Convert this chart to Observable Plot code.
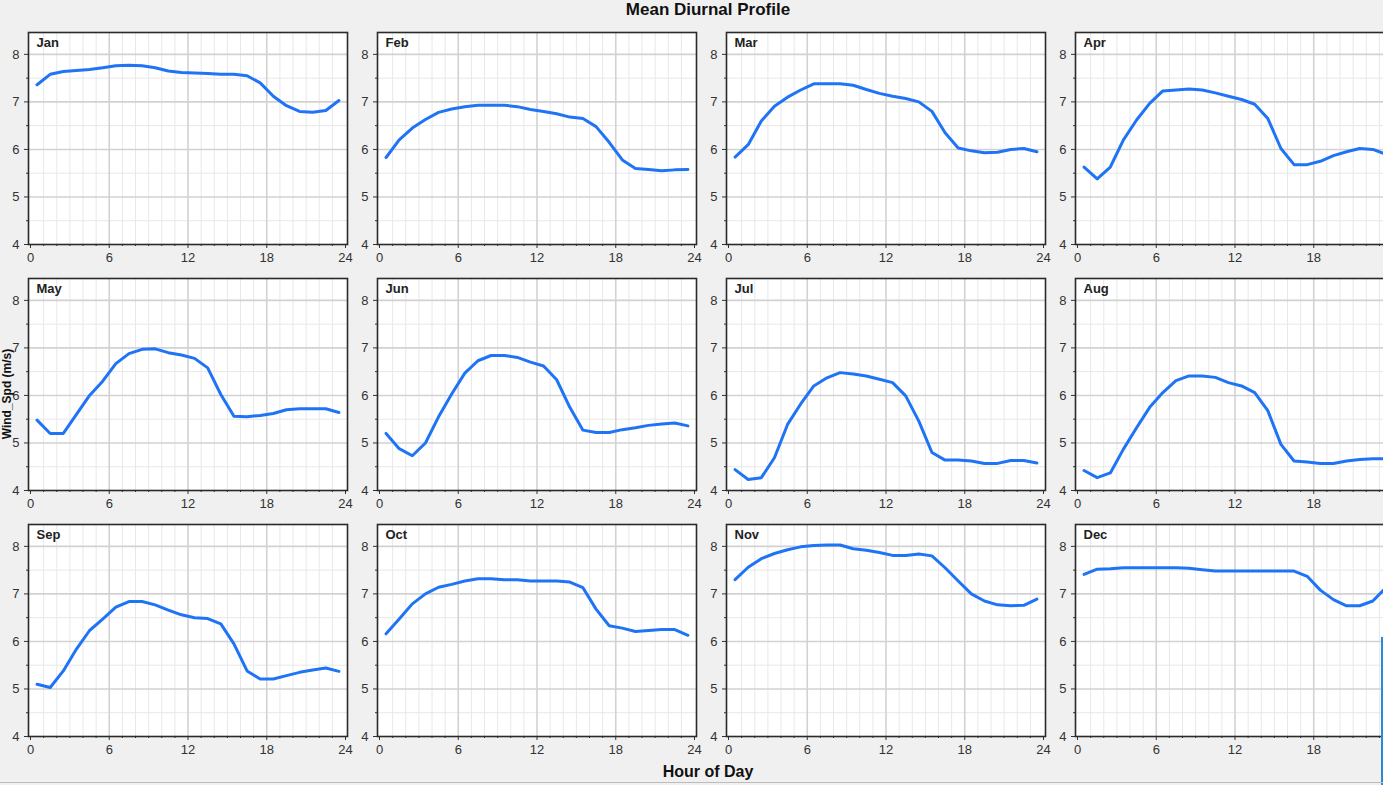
<!DOCTYPE html>
<html>
<head>
<meta charset="utf-8">
<script src="https://cdn.jsdelivr.net/npm/d3@7"></script>
<script src="https://cdn.jsdelivr.net/npm/@observablehq/plot@0.6"></script>
<style>
  html, body { margin: 0; padding: 0; background: #f0f0f0; overflow: hidden; }
  #root { position: relative; width: 1383px; height: 785px; overflow: hidden; background: #f0f0f0;
          font-family: "Liberation Sans", Arial, sans-serif; }
  .panel { position: absolute; }
  #title { position: absolute; left: 0; width: 1416px; top: 1px; text-align: center; font-weight: bold;
           font-size: 17px; line-height: 17px; color: #111; }
  #xlabel { position: absolute; left: 0; width: 1416px; top: 764px; text-align: center; font-weight: bold;
            font-size: 16px; line-height: 16px; color: #111; }
</style>
</head>
<body>
<div id="root">
  <div id="title">Mean Diurnal Profile</div>
  <div id="xlabel">Hour of Day</div>
</div>
<script>
// ---- data ----
const months = ["Jan", "Feb", "Mar", "Apr", "May", "Jun", "Jul", "Aug", "Sep", "Oct", "Nov", "Dec"];
const hours = [0.5, 1.5, 2.5, 3.5, 4.5, 5.5, 6.5, 7.5, 8.5, 9.5, 10.5, 11.5,
               12.5, 13.5, 14.5, 15.5, 16.5, 17.5, 18.5, 19.5, 20.5, 21.5, 22.5, 23.5];
const jan = [7.36, 7.58, 7.64, 7.66, 7.68, 7.72, 7.76, 7.77, 7.76, 7.72, 7.65, 7.62, 7.61, 7.60, 7.58, 7.58, 7.55, 7.40, 7.12, 6.92, 6.80, 6.78, 6.82, 7.03];
const feb = [5.83, 6.20, 6.45, 6.63, 6.78, 6.85, 6.90, 6.93, 6.93, 6.93, 6.90, 6.84, 6.80, 6.75, 6.68, 6.65, 6.48, 6.15, 5.78, 5.60, 5.58, 5.55, 5.57, 5.58];
const mar = [5.84, 6.10, 6.60, 6.91, 7.10, 7.25, 7.38, 7.38, 7.38, 7.35, 7.26, 7.18, 7.12, 7.07, 7.00, 6.80, 6.35, 6.03, 5.97, 5.93, 5.94, 6.00, 6.02, 5.95];
const apr = [5.63, 5.38, 5.63, 6.20, 6.62, 6.97, 7.23, 7.25, 7.27, 7.25, 7.19, 7.12, 7.05, 6.95, 6.65, 6.02, 5.68, 5.68, 5.75, 5.87, 5.95, 6.02, 6.00, 5.90];
const may = [5.48, 5.20, 5.20, 5.60, 6.00, 6.30, 6.67, 6.88, 6.97, 6.98, 6.90, 6.85, 6.78, 6.58, 6.02, 5.56, 5.55, 5.58, 5.62, 5.70, 5.72, 5.72, 5.72, 5.64];
const jun = [5.20, 4.88, 4.73, 5.00, 5.55, 6.03, 6.47, 6.73, 6.84, 6.84, 6.80, 6.70, 6.62, 6.33, 5.75, 5.27, 5.22, 5.22, 5.28, 5.32, 5.37, 5.40, 5.42, 5.36];
const jul = [4.44, 4.23, 4.27, 4.69, 5.39, 5.82, 6.20, 6.37, 6.48, 6.45, 6.41, 6.34, 6.27, 5.99, 5.46, 4.80, 4.64, 4.64, 4.62, 4.57, 4.57, 4.63, 4.63, 4.58];
const aug = [4.42, 4.27, 4.37, 4.87, 5.32, 5.75, 6.06, 6.31, 6.41, 6.41, 6.38, 6.27, 6.20, 6.06, 5.68, 4.97, 4.62, 4.60, 4.57, 4.57, 4.62, 4.65, 4.67, 4.67];
const sep = [5.10, 5.03, 5.38, 5.84, 6.23, 6.47, 6.72, 6.84, 6.84, 6.77, 6.66, 6.56, 6.50, 6.48, 6.37, 5.95, 5.38, 5.21, 5.21, 5.28, 5.35, 5.40, 5.44, 5.37];
const oct = [6.16, 6.47, 6.79, 7.00, 7.14, 7.20, 7.27, 7.32, 7.32, 7.30, 7.30, 7.27, 7.27, 7.27, 7.25, 7.13, 6.68, 6.33, 6.28, 6.21, 6.23, 6.25, 6.25, 6.13];
const nov = [7.30, 7.56, 7.74, 7.85, 7.93, 7.99, 8.02, 8.03, 8.03, 7.95, 7.92, 7.87, 7.81, 7.81, 7.84, 7.80, 7.55, 7.27, 7.00, 6.85, 6.77, 6.75, 6.76, 6.89];
const dec = [7.41, 7.52, 7.53, 7.55, 7.55, 7.55, 7.55, 7.55, 7.54, 7.51, 7.48, 7.48, 7.48, 7.48, 7.48, 7.48, 7.48, 7.37, 7.08, 6.88, 6.75, 6.75, 6.85, 7.13];
const series = [jan, feb, mar, apr, may, jun, jul, aug, sep, oct, nov, dec];

const xMajorTicks = [0, 6, 12, 18, 24];
const xMinorTicks = [1, 2, 3, 4, 5, 7, 8, 9, 10, 11, 13, 14, 15, 16, 17, 19, 20, 21, 22, 23];
const yMajorTicks = [4, 5, 6, 7, 8];
const yMinorTicks = [4.5, 5.5, 6.5, 7.5];

// ---- layout ----
const root = document.getElementById("root");
const colLeft = [28, 377, 726, 1075];
const rowTop = [32, 278, 524];
const frameW = 319, frameH = 212;
const mL = 30, mR = 14, mT = 2, mB = 26;

months.forEach((m, i) => {
  const col = i % 4, row = Math.floor(i / 4);
  const data = hours.map((h, k) => ({hour: h, value: series[i][k]}));
  // the last column runs past the window edge; its "24" label would be cut, so it is not labelled
  const labelled = col === 3 ? xMajorTicks.slice(0, 4) : xMajorTicks;
  const chart = Plot.plot({
    width: mL + frameW + mR,
    height: mT + frameH + mB,
    marginLeft: mL, marginRight: mR, marginTop: mT, marginBottom: mB,
    style: {background: "transparent", fontFamily: "Liberation Sans, Arial, sans-serif", fontSize: "13px", color: "#333"},
    x: {domain: [0, 24], insetLeft: 2, insetRight: 2},
    y: {domain: [4, 8.46]},
    marks: [
      Plot.frame({fill: "white", stroke: null}),
      Plot.gridX({ticks: xMinorTicks, stroke: "#e8e8e8", strokeOpacity: 1, strokeWidth: 1}),
      Plot.gridY({ticks: yMinorTicks, stroke: "#e8e8e8", strokeOpacity: 1, strokeWidth: 1}),
      Plot.gridX({ticks: [6, 12, 18], stroke: "#d2d2d2", strokeOpacity: 1, strokeWidth: 1.6}),
      Plot.gridY({ticks: [5, 6, 7, 8], stroke: "#d2d2d2", strokeOpacity: 1, strokeWidth: 1.6}),
      Plot.axisX({ticks: labelled, tickSize: 4, tickPadding: 4, tickFormat: d => String(d), label: null, color: "#333", fontSize: 13}),
      Plot.axisX({ticks: xMinorTicks, tickSize: 2, tickFormat: () => "", label: null, color: "#333"}),
      Plot.axisY({ticks: yMajorTicks, tickSize: 4, tickPadding: 5, tickFormat: d => String(d), label: null, color: "#333", fontSize: 13}),
      Plot.axisY({ticks: yMinorTicks, tickSize: 2, tickFormat: () => "", label: null, color: "#333"}),
      Plot.line(data, {x: "hour", y: "value", stroke: "#1f74f5", strokeWidth: 3}),
      Plot.frame({stroke: "#2a2a2a", strokeWidth: 1.6}),
      Plot.text([m], {text: d => d, frameAnchor: "top-left", dx: 8, dy: 5, fontWeight: "bold", fontSize: 13, fill: "#222"})
    ]
  });
  chart.classList.add("panel");
  chart.style.left = (colLeft[col] - mL) + "px";
  chart.style.top = (rowTop[row] - mT) + "px";
  chart.style.position = "absolute";
  root.appendChild(chart);
});

// y-axis title (drawn last so it sits above the panels)
const ns = "http://www.w3.org/2000/svg";
const ysvg = document.createElementNS(ns, "svg");
ysvg.setAttribute("width", "20");
ysvg.setAttribute("height", "785");
ysvg.style.cssText = "position:absolute;left:0;top:0;";
const yt = document.createElementNS(ns, "text");
yt.setAttribute("transform", "translate(11,394) rotate(-90)");
yt.setAttribute("text-anchor", "middle");
yt.setAttribute("font-weight", "bold");
yt.setAttribute("font-size", "12");
yt.setAttribute("font-family", "Liberation Sans, Arial, sans-serif");
yt.setAttribute("fill", "#111");
yt.textContent = "Wind_Spd (m/s)";
ysvg.appendChild(yt);
root.appendChild(ysvg);

// screen artifacts in reference
const bar = document.createElement("div");
bar.style.cssText = "position:absolute;left:1381px;top:637px;width:2px;height:148px;background:#2a8ad8;";
root.appendChild(bar);
const bottomLine = document.createElement("div");
bottomLine.style.cssText = "position:absolute;left:0;top:782px;width:1383px;height:1px;background:#bcbcbc;";
root.appendChild(bottomLine);
</script>
</body>
</html>
